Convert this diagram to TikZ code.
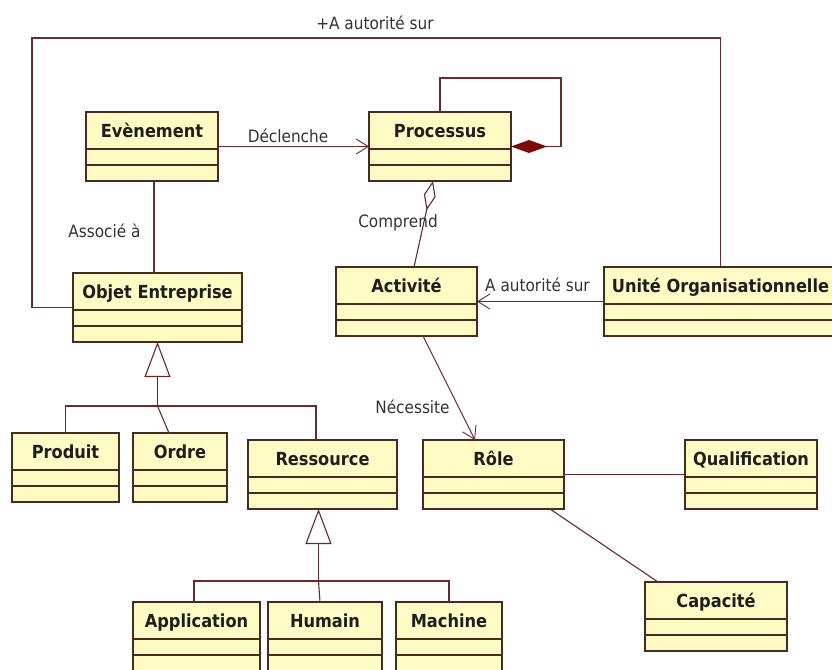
\documentclass[tikz,border=0pt]{standalone}
\usepackage{fontspec}
\setmainfont{DejaVu Sans}[FakeStretch=0.9]
\usetikzlibrary{arrows.meta}
\definecolor{boxfill}{HTML}{FFFBC4}
\definecolor{boxline}{HTML}{4A2A1E}
\definecolor{connc}{HTML}{6B2A2A}
\definecolor{compo}{HTML}{7A0A0A}
\definecolor{txt}{HTML}{1E1E1E}
\definecolor{lbltxt}{HTML}{333333}
\tikzset{
 classbox/.style={draw=boxline, fill=boxfill, line width=1.3pt, inner sep=0pt, outer sep=0pt, anchor=north west},
 sepline/.style={draw=boxline, line width=1.3pt},
 classtitle/.style={font=\fontsize{18}{20}\selectfont\bfseries, text=txt, inner sep=0pt, anchor=base},
 lbl/.style={font=\fontsize{17}{19}\selectfont, text=lbltxt, inner sep=0pt, anchor=base},
 conn/.style={draw=connc, line width=1.1pt},
 openarrow/.style={conn, -{Straight Barb[length=12pt,width=15pt,line width=0.9pt]}},
 geninh/.style={conn, -{Triangle[open, length=35pt, width=26pt, line width=1.1pt]}},
 compos/.style={conn, -{Diamond[length=36pt,width=13pt,fill=compo,color=compo]}},
 aggreg/.style={conn, -{Diamond[open,length=30pt,width=12pt]}},
}
\newcommand\umlclass[6]{%
 \node[classbox, minimum width={(#4-#2)*1pt}, minimum height={(#5-#3)*1pt}] (#1) at (#2,#3) {};
 \draw[sepline] ([yshift=-37pt]#1.north west) -- ([yshift=-37pt]#1.north east);
 \draw[sepline] ([yshift=-53pt]#1.north west) -- ([yshift=-53pt]#1.north east);
 \node[classtitle] (#1-title) at ([yshift=-25pt]#1.north) {#6};
}
\begin{document}
\begin{tikzpicture}[x=1pt,y=-1pt]
\useasboundingbox (0,0) rectangle (832,669);
\fill[white] (0,0) rectangle (832,669);
% classes
\umlclass{Evenement}{86}{112}{218}{181}{Evènement}
\umlclass{Processus}{369}{112}{511}{181}{Processus}
\umlclass{Objet}{73}{273}{242}{342}{Objet Entreprise}
\umlclass{Activite}{336}{267}{477}{336}{Activité}
\umlclass{Unite}{604}{267}{833}{336}{\hspace*{4pt}Unité Organisationnelle}
\umlclass{Produit}{12}{433}{119}{502}{Produit}
\umlclass{Ordre}{133}{433}{227}{502}{Ordre}
\umlclass{Ressource}{248}{440}{397}{509}{Ressource}
\umlclass{Role}{423}{440}{564}{509}{Rôle}
\umlclass{Qualification}{685}{440}{817}{509}{Qualification}
\umlclass{Application}{133}{602}{260}{671}{Application}
\umlclass{Humain}{268}{602}{382}{671}{Humain}
\umlclass{Machine}{396}{602}{502}{671}{Machine}
\umlclass{Capacite}{645}{582}{787}{651}{Capacité}
% connectors
\draw[conn] (Objet.west) -| (32,38) -| ([xshift=2pt]Unite.north);
\draw[compos] (Processus.north) -- ++(0,-34) -| (561,146.5) -- (Processus.east);
\draw[conn] ([xshift=2pt]Evenement.south) -- ([xshift=2pt]Evenement.south |- Objet.north);
\draw[openarrow] (Evenement.east) -- (Processus.west);
\draw[aggreg] ([xshift=7.5pt]Activite.north) -- ([xshift=-7pt]Processus.south);
\draw[openarrow] (Unite.west) -- (Activite.east);
\draw[openarrow] ([xshift=16.5pt]Activite.south) -- ([xshift=-18.5pt]Role.north);
\draw[conn] (Role.east) -- (Qualification.west);
\draw[conn] ([xshift=56.5pt]Role.south) -- ([xshift=-58pt]Capacite.north);
% generalisations
\coordinate (g1) at (157.5,406);
\draw[geninh] (g1) -- (Objet.south);
\draw[conn] (Produit.north) |- (g1);
\draw[conn] (g1) -- ([xshift=-11pt]Ordre.north);
\draw[conn] ([xshift=-6.5pt]Ressource.north) |- (g1);
\coordinate (g2) at (318.5,581);
\draw[geninh] (g2) -- ([xshift=-4pt]Ressource.south);
\draw[conn] ([xshift=-2.5pt]Application.north) |- (g2);
\draw[conn] (g2) -- ([xshift=-5pt]Humain.north);
\draw[conn] (Machine.north) |- (g2);
% labels
\node[lbl] (lAuto) at (375,30) {+A autorité sur};
\node[lbl] (lDecl) at (288,142) {Déclenche};
\node[lbl] (lAssoc) at (104.5,237) {Associé à};
\node[lbl] (lComp) at (398,227) {Comprend};
\node[lbl] (lAuto2) at (537.5,291) {A autorité sur};
\node[lbl] (lNec) at (412.5,413) {Nécessite};
\end{tikzpicture}
\end{document}
